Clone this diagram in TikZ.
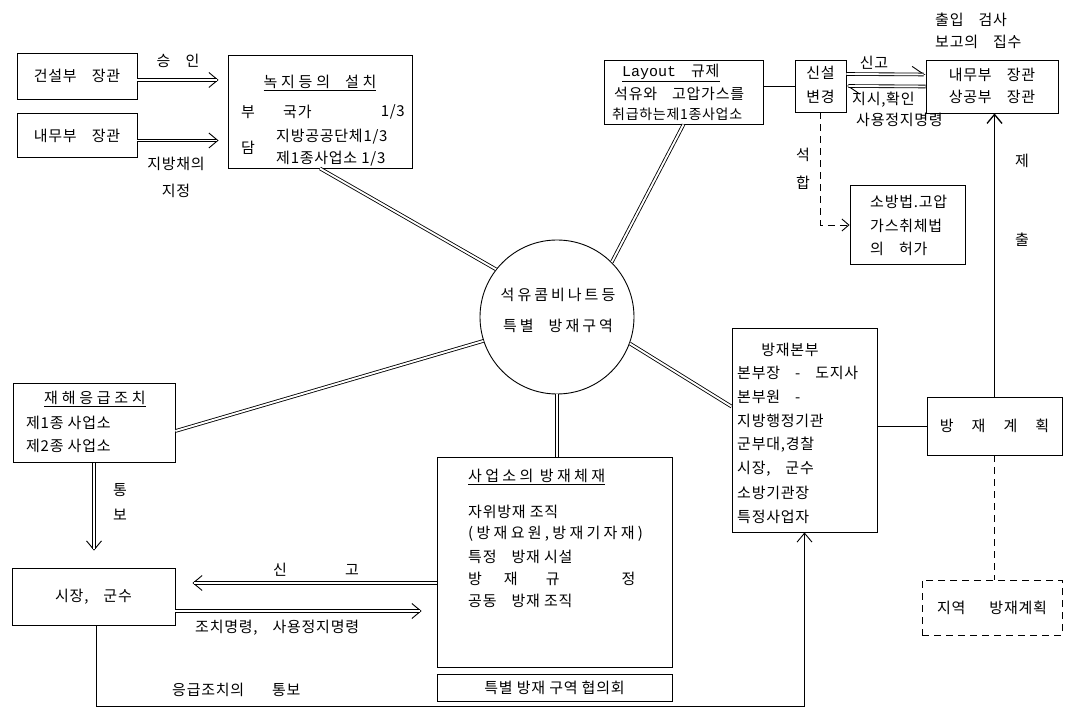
\documentclass[tikz,border=0pt]{standalone}
\usepackage{fontspec}
\setmainfont{Noto Sans CJK KR}[LetterSpace=5]
\newfontfamily\typew{Liberation Mono}
\usetikzlibrary{arrows.meta,calc}
\begin{document}
\begin{tikzpicture}[x=1pt,y=-1pt,
  every node/.style={inner sep=0pt, font=\fontsize{15pt}{18pt}\selectfont},
  box/.style={draw, line width=0.9pt},
  dashbox/.style={draw, line width=0.9pt, dash pattern=on 7pt off 5pt},
  conn/.style={line width=0.9pt},
  dblline/.style={double, double distance=1.9pt, line width=0.85pt},
  headline/.style={conn, -{Straight Barb[length=9pt,width=15pt]}},
  sarrow/.style={conn, -{Straight Barb[length=9pt,width=15pt]}},
  harp/.style={conn, -{Straight Barb[harpoon,length=12pt,width=16pt]}},
  dashconn/.style={conn, dash pattern=on 7pt off 5pt},
  wide/.style={font=\fontsize{15pt}{18pt}\selectfont\addfontfeature{LetterSpace=25}}]
\useasboundingbox (0,0) rectangle (1069,711);
\fill[white] (0,0) rectangle (1069,711);

% ---------- boxes ----------
\node[box, minimum width=120pt, minimum height=46pt] (ksb) at (77,76) {건설부\quad 장관};
\node[box, minimum width=120pt, minimum height=44pt] (nmb) at (77,135.5) {내무부\quad 장관};
\node[box, minimum width=184pt, minimum height=113pt] (nokji) at (320,111.5) {};
\node[box, minimum width=159pt, minimum height=64pt] (layout) at (683.5,92) {};
\node[box, minimum width=51pt, minimum height=52pt] (sinseol) at (820.5,86) {};
\node[box, minimum width=132pt, minimum height=53pt] (naemu) at (992,86.5) {};
\node[box, minimum width=115pt, minimum height=79pt] (sobang) at (907.5,225) {};
\node[box, circle, minimum size=154pt] (circ) at (557,317) {};
\node[box, minimum width=162pt, minimum height=79pt] (jhe) at (94,423) {};
\node[box, minimum width=163pt, minimum height=57pt] (sj) at (93.5,596.5) {시장,\quad 군수};
\node[box, minimum width=235pt, minimum height=210pt] (saeop) at (554.5,562.5) {};
\node[box, minimum width=235pt, minimum height=27pt] (hyeop) at (554.5,688) {특별\ 방재\ 구역\ 협의회};
\node[box, minimum width=145pt, minimum height=204pt] (bonbu) at (804.5,430) {};
\node[box, minimum width=135pt, minimum height=58pt] (gyehoek) at (994.5,426) {방\hspace{18pt}재\hspace{18pt}계\hspace{18pt}획};
\node[dashbox, minimum width=140pt, minimum height=55pt] (jiyeok) at (992,607.5) {지역\hspace{24pt}방재계획};

% ---------- texts in boxes ----------
\node[wide] (nokjiT) at (320,83) {\underline{녹지등의\quad 설치}};
\node (bu) at (248,112) {부};
\node[anchor=west] (gukga) at (283,112) {국가};
\node[anchor=east] (gukgaR) at (405,112) {1/3};
\node[anchor=west] (jibang) at (276,137) {지방공공단체1/3};
\node (dam) at (248,148) {담};
\node[anchor=west] (je1) at (276,159) {제1종사업소\ 1/3};

\node[anchor=west] (layT) at (622,73) {\underline{{\typew Layout}\quad 규제}};
\node[anchor=west] (lay2) at (614,94) {석유와\quad 고압가스를};
\node[anchor=west] (lay3) at (612,114) {\fontsize{14pt}{16pt}\selectfont 취급하는제1종사업소};

\node (sin) at (820.5,73) {신설};
\node (byeon) at (820.5,97) {변경};

\node (naemu1) at (992,75) {내무부\quad 장관};
\node (naemu2) at (992,97) {상공부\quad 장관};

\node[anchor=west] (sob1) at (870,202) {소방법.고압};
\node[anchor=west] (sob2) at (870,226) {가스취체법};
\node[anchor=west] (sob3) at (870,249) {의\quad 허가};

\node[font=\fontsize{15pt}{18pt}\selectfont\addfontfeature{LetterSpace=20}] (circT1) at (558,295) {석유콤비나트등};
\node[font=\fontsize{15pt}{18pt}\selectfont\addfontfeature{LetterSpace=20}] (circT2) at (558,326) {특별\quad 방재구역};

\node[wide] (jheT) at (95,399) {\underline{재해응급조치}};
\node[anchor=west] (jhe1) at (26,423) {제1종\ 사업소};
\node[anchor=west] (jhe2) at (26,446) {제2종\ 사업소};

\node[anchor=west, font=\fontsize{15pt}{18pt}\selectfont\addfontfeature{LetterSpace=22}] (saeT) at (468,477) {\underline{사업소의\ 방재체재}};
\node[anchor=west] (sae1) at (468,512) {자위방재\ 조직};
\node[anchor=west, font=\fontsize{15pt}{18pt}\selectfont\addfontfeature{LetterSpace=22}] (sae2) at (468,534) {(방재요원,방재기자재)};
\node[anchor=west] (sae3) at (468,557) {특정\quad 방재\ 시설};
\node[anchor=west] (sae4) at (468,579) {방\hspace{22pt}재\hspace{28pt}규\hspace{62pt}정};
\node[anchor=west] (sae5) at (468,601) {공동\quad 방재\ 조직};

\node (bonT) at (790,350) {방재본부};
\node[anchor=west] (bon1) at (737,373) {본부장\quad -\quad 도지사};
\node[anchor=west] (bon2) at (737,397) {본부원\quad -};
\node[anchor=west] (bon3) at (737,421) {지방행정기관};
\node[anchor=west] (bon4) at (737,445) {군부대,경찰};
\node[anchor=west] (bon5) at (737,469) {시장,\quad 군수};
\node[anchor=west] (bon6) at (737,493) {소방기관장};
\node[anchor=west] (bon7) at (737,517) {특정사업자};

% ---------- free labels ----------
\node (seungin) at (178,61) {승\quad 인};
\node (jibangchae) at (176,164) {지방채의};
\node (jijeong) at (176,191) {지정};
\node[anchor=west] (chulip) at (935,20) {출입\quad 검사};
\node[anchor=west] (bogo) at (935,42) {보고의\quad 집수};
\node (singoT) at (874,63) {신고};
\node[anchor=west] (jisi) at (852,100) {지시,확인};
\node[anchor=west] (sayong1) at (856,120) {사용정지명령};
\node (seok) at (803,155) {석};
\node (hap) at (803,183) {합};
\node (je) at (1022,161) {제};
\node (chul) at (1022,240) {출};
\node (tong) at (120,490) {통};
\node (bo) at (120,515) {보};
\node (sinL) at (280,570) {신};
\node (goL) at (352,570) {고};
\node[anchor=west] (jochi) at (195,628) {조치명령,\quad 사용정지명령};
\node[anchor=west] (eunggeup) at (172,690) {응급조치의\hspace{28pt}통보};

% ---------- connectors ----------
% 승인
\draw[headline, shorten >=9pt] ($(ksb.east)+(0,4)$) -- ($(ksb.east -| nokji.west)+(0,4)$);
\draw[dblline, shorten >=10.5pt] ($(ksb.east)+(0,4)$) -- ($(ksb.east -| nokji.west)+(0,4)$);
% 지방채의 지정
\draw[headline, shorten >=9pt] ($(nmb.east)+(0,5)$) -- ($(nmb.east -| nokji.west)+(0,5)$);
\draw[dblline, shorten >=10.5pt] ($(nmb.east)+(0,5)$) -- ($(nmb.east -| nokji.west)+(0,5)$);
% spokes of the circle
\draw[dblline] (nokji.south) -- (circ.142);
\draw[dblline] (layout.south) -- (circ.45);
\draw[dblline] (circ.-20) -- ($(bonbu.north west)+(0,79)$);
\draw[dblline] (circ.south) -- (circ.south |- saeop.north);
\draw[dblline] (circ.198) -- ($(jhe.east)+(0,8)$);
% Layout - 신설
\draw[conn] (layout.east |- sinseol.center) -- (sinseol.west);
% 신고 / 지시 harpoons
\draw[harp] ($(sinseol.east)+(0,-12)$) -- ($(naemu.west)+(0,-12)$);
\draw[dblline, shorten >=2pt] ($(sinseol.east)+(0,-12)$) -- ($(naemu.west)+(0,-12)$);
\draw[harp] ($(naemu.west)+(0,0)$) -- ($(sinseol.east)+(0,0)$);
\draw[dblline, shorten >=2pt] ($(naemu.west)+(0,0)$) -- ($(sinseol.east)+(0,0)$);
% 석합 dashed
\draw[dashconn, -{Straight Barb[length=7pt,width=12pt]}] (sinseol.south) |- (sobang.west);
% 제출
\draw[line width=1.3pt, -{Straight Barb[length=9pt,width=15pt]}] (gyehoek.north) -- (gyehoek.north |- naemu.south);
\draw[dashconn] (gyehoek.south) -- (gyehoek.south |- jiyeok.north);
\draw[conn] (bonbu.east |- gyehoek.west) -- (gyehoek.west);
% 통보
\draw[headline, shorten >=17pt] (jhe.south) -- (jhe.south |- sj.north);
\draw[dblline, shorten >=18.5pt] (jhe.south) -- (jhe.south |- sj.north);
% 신고 (bottom)
\draw[headline, shorten >=17pt] ($(saeop.west)+(0,20.5)$) -- ($(sj.east |- saeop.west)+(0,20.5)$);
\draw[dblline, shorten >=18.5pt] ($(saeop.west)+(0,20.5)$) -- ($(sj.east |- saeop.west)+(0,20.5)$);
% 조치명령
\draw[headline, shorten >=15pt] ($(sj.east)+(0,14.5)$) -- ($(saeop.west |- sj.east)+(0,14.5)$);
\draw[dblline, shorten >=16.5pt] ($(sj.east)+(0,14.5)$) -- ($(saeop.west |- sj.east)+(0,14.5)$);
% 응급조치의 통보
\draw[sarrow] ($(sj.south)+(3,0)$) |- ($(bonbu.south)+(0,174)$) -- (bonbu.south);
\end{tikzpicture}
\end{document}
